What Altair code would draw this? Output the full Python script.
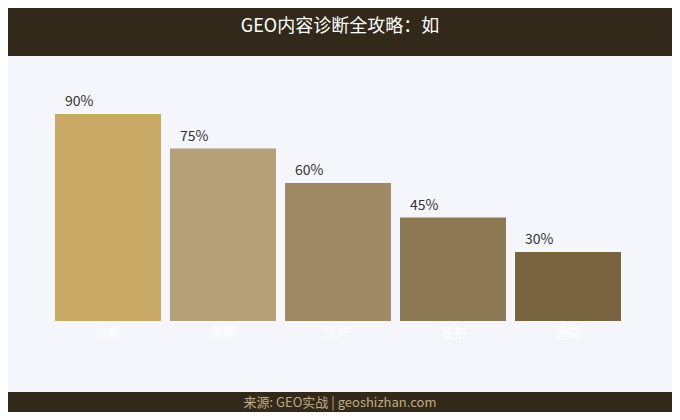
import altair as alt
import pandas as pd

categories = ["诊断", "策略", "生产", "发布", "追踪"]
values = [90, 75, 60, 45, 30]
labels = ["90%", "75%", "60%", "45%", "30%"]
colors = ["#c8aa66", "#b5a07a", "#a08a66", "#8c7853", "#78643f"]
title_text = "GEO内容诊断全攻略：如"
source_text = "来源: GEO实战 | geoshizhan.com"

FONT = "Noto Sans CJK SC"
W, H = 664, 404

df = pd.DataFrame({"cat": categories, "val": values, "label": labels, "zero": [0] * len(categories)})
one = pd.DataFrame({"t": [title_text], "s": [source_text]})

x_scale = alt.Scale(domain=categories, range=[47, 613], paddingInner=0.0783, paddingOuter=0)
y_scale = alt.Scale(domain=[0, 100], range=[313, 83])

bars = alt.Chart(df).mark_bar().encode(
    x=alt.X("cat:N", scale=x_scale, axis=None, sort=categories),
    y=alt.Y("val:Q", scale=y_scale, axis=None),
    color=alt.Color("cat:N", scale=alt.Scale(domain=categories, range=colors), legend=None),
)

pct = alt.Chart(df).mark_text(
    align="left", baseline="bottom", dx=10, dy=-5, fontSize=14, font=FONT, color="#333333"
).encode(
    x=alt.X("cat:N", scale=x_scale, axis=None, sort=categories, bandPosition=0),
    y=alt.Y("val:Q", scale=y_scale, axis=None),
    text="label:N",
)

cats = alt.Chart(df).mark_text(
    align="center", baseline="middle", dy=12, fontSize=13, font=FONT, color="#ffffff"
).encode(
    x=alt.X("cat:N", scale=x_scale, axis=None, sort=categories),
    y=alt.Y("zero:Q", scale=y_scale, axis=None),
    text="cat:N",
)

header = alt.Chart(one).mark_rect(color="#33291a").encode(
    x=alt.value(0), x2=alt.value(W), y=alt.value(0), y2=alt.value(48)
)
footer = alt.Chart(one).mark_rect(color="#33291a").encode(
    x=alt.value(0), x2=alt.value(W), y=alt.value(384), y2=alt.value(H)
)
title = alt.Chart(one).mark_text(
    align="center", baseline="middle", fontSize=18, font=FONT, color="#ffffff"
).encode(x=alt.value(332), y=alt.value(19), text="t:N")
source = alt.Chart(one).mark_text(
    align="center", baseline="middle", fontSize=13, font=FONT, color="#bfac86"
).encode(x=alt.value(332), y=alt.value(395), text="s:N")

chart = alt.layer(header, footer, bars, pct, cats, title, source).resolve_scale(
    color="independent"
).properties(
    width=W, height=H, background="#f5f6fb", padding=0,
    autosize=alt.AutoSizeParams(type="none"),
).configure_view(stroke=None)

chart.save("out.html", embed_options={"renderer": "svg", "actions": False})
